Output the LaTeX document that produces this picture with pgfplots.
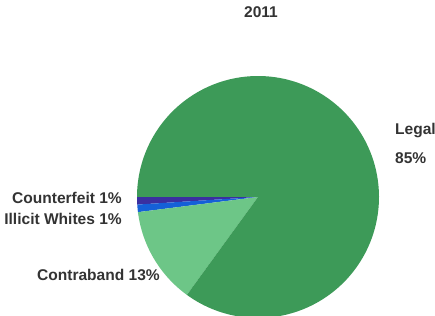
\documentclass[border=0pt]{standalone}
\usepackage{pgfplots}
\pgfplotsset{compat=1.18}
\usepackage{fontspec}
\setmainfont{Liberation Sans}
\definecolor{cLegal}{HTML}{3D9A58}
\definecolor{cContra}{HTML}{6DC687}
\definecolor{cCounter}{HTML}{3A2FA0}
\definecolor{cIllicit}{HTML}{1560D8}
\definecolor{txt}{HTML}{333333}
% data (percent)
\def\vCounter{1}
\def\vIllicit{1}
\def\vContra{13}
\def\vLegal{85}
\pgfmathsetmacro{\aA}{180}
\pgfmathsetmacro{\aB}{\aA+3.6*\vCounter}
\pgfmathsetmacro{\aC}{\aB+3.6*\vIllicit}
\pgfmathsetmacro{\aD}{\aC+3.6*\vContra}
\pgfmathsetmacro{\aE}{\aD+3.6*\vLegal}
\begin{document}
\begin{tikzpicture}
\useasboundingbox (0,0) rectangle (435bp,316bp);
\clip (0,0) rectangle (435bp,316bp);
\begin{axis}[
  name=pie,
  at={(0,0)}, anchor=south west,
  scale only axis, width=435bp, height=316bp,
  hide axis,
  xmin=-2.1322, xmax=1.4628,
  ymin=-0.9835, ymax=1.6281,
  clip=true,
  trig format plots=deg,
]
\addplot[fill=cCounter, draw=none, domain=\aA:\aB, samples=6] ({cos(x)},{sin(x)}) -- (axis cs:0,0) -- cycle;
\addplot[fill=cIllicit, draw=none, domain=\aB:\aC, samples=6] ({cos(x)},{sin(x)}) -- (axis cs:0,0) -- cycle;
\addplot[fill=cContra, draw=none, domain=\aC:\aD, samples=40] ({cos(x)},{sin(x)}) -- (axis cs:0,0) -- cycle;
\addplot[fill=cLegal, draw=none, domain=\aD:\aE, samples=200] ({cos(x)},{sin(x)}) -- (axis cs:0,0) -- cycle;
\end{axis}
\begin{scope}[shift={(0,316bp)}, x=1bp,y=-1bp, every node/.style={font=\fontsize{15.6}{18}\selectfont\bfseries, text=txt, inner sep=0pt}]
\node[anchor=center] at (261,12) {2011};
\node[anchor=west] at (395,131) {Legal};
\node[anchor=west] at (395,158) {85\%};
\node[anchor=east] at (122,198) {Counterfeit 1\%};
\node[anchor=east] at (122,219) {Illicit Whites 1\%};
\node[anchor=east] at (160,275) {Contraband 13\%};
\end{scope}
\end{tikzpicture}
\end{document}
